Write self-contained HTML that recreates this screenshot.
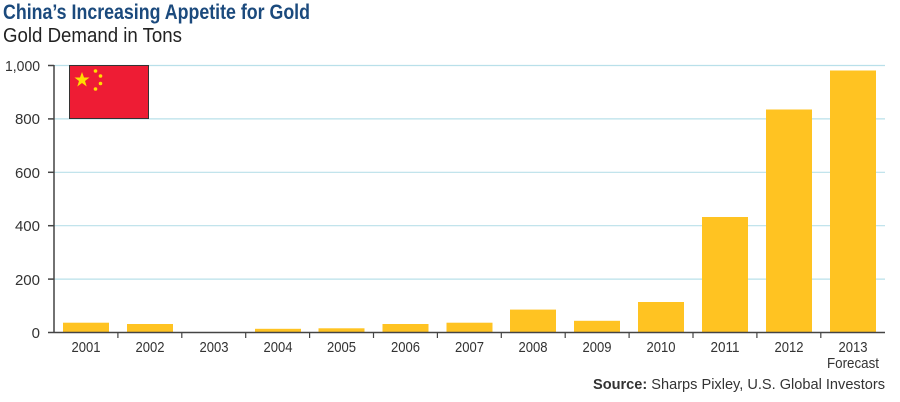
<!DOCTYPE html>
<html><head><style>body{margin:0;background:#fff}svg{display:block}</style></head><body>
<svg width="900" height="402" xmlns="http://www.w3.org/2000/svg" font-family="Liberation Sans, sans-serif">
<text x="3" y="19" font-size="21" font-weight="bold" fill="#1b4a7d" textLength="307" lengthAdjust="spacingAndGlyphs">China’s Increasing Appetite for Gold</text>
<text x="3" y="42" font-size="20" fill="#222" textLength="179" lengthAdjust="spacingAndGlyphs">Gold Demand in Tons</text>
<g stroke="#b9e0ea" stroke-width="1.2">
<line x1="54" x2="885" y1="65.5" y2="65.5"/><line x1="54" x2="885" y1="118.9" y2="118.9"/>
<line x1="54" x2="885" y1="172.3" y2="172.3"/><line x1="54" x2="885" y1="225.7" y2="225.7"/>
<line x1="54" x2="885" y1="279.1" y2="279.1"/>
</g>
<g fill="#ffc322">
<rect x="63" y="322.7" width="46" height="9.3"/>
<rect x="127" y="324" width="46" height="8"/>
<rect x="255" y="328.8" width="46" height="3.2"/>
<rect x="318.5" y="328.3" width="46" height="3.7"/>
<rect x="382.5" y="324" width="46" height="8"/>
<rect x="446.5" y="322.7" width="46" height="9.3"/>
<rect x="510" y="309.6" width="46" height="22.4"/>
<rect x="574" y="320.8" width="46" height="11.2"/>
<rect x="638" y="302" width="46" height="30"/>
<rect x="702" y="217" width="46" height="115"/>
<rect x="766" y="109.5" width="46" height="222.5"/>
<rect x="830" y="70.5" width="46" height="261.5"/>
</g>
<rect x="69.5" y="65.5" width="79" height="53" fill="#ee1c34" stroke="#333" stroke-width="1"/>
<g fill="#ffde00">
<polygon points="82,72 84,77.5 89.5,77.5 85,81 86.7,86.5 82,83 77.3,86.5 79,81 74.5,77.5 80,77.5"/>
<circle cx="95.5" cy="71" r="1.8"/><circle cx="100.5" cy="76" r="1.8"/><circle cx="100.5" cy="83.5" r="1.8"/><circle cx="95.5" cy="89" r="1.8"/>
</g>
<g stroke="#444" stroke-width="1.5">
<line x1="54" x2="54" y1="65" y2="333"/>
<line x1="54" x2="885" y1="332.5" y2="332.5"/>
<line x1="48" x2="54" y1="65.5" y2="65.5"/><line x1="48" x2="54" y1="118.9" y2="118.9"/>
<line x1="48" x2="54" y1="172.3" y2="172.3"/><line x1="48" x2="54" y1="225.7" y2="225.7"/>
<line x1="48" x2="54" y1="279.1" y2="279.1"/><line x1="48" x2="54" y1="332.5" y2="332.5"/>
</g>
<g stroke="#444" stroke-width="1.2">
<line x1="117.9" x2="117.9" y1="332" y2="338"/><line x1="181.8" x2="181.8" y1="332" y2="338"/>
<line x1="245.7" x2="245.7" y1="332" y2="338"/><line x1="309.6" x2="309.6" y1="332" y2="338"/>
<line x1="373.5" x2="373.5" y1="332" y2="338"/><line x1="437.4" x2="437.4" y1="332" y2="338"/>
<line x1="501.3" x2="501.3" y1="332" y2="338"/><line x1="565.2" x2="565.2" y1="332" y2="338"/>
<line x1="629.1" x2="629.1" y1="332" y2="338"/><line x1="693" x2="693" y1="332" y2="338"/>
<line x1="756.9" x2="756.9" y1="332" y2="338"/><line x1="820.8" x2="820.8" y1="332" y2="338"/>
</g>
<g font-size="15" fill="#333" text-anchor="end">
<text x="40" y="71" textLength="35" lengthAdjust="spacingAndGlyphs">1,000</text><text x="40" y="124">800</text><text x="40" y="178">600</text>
<text x="40" y="231">400</text><text x="40" y="285">200</text><text x="40" y="338">0</text>
</g>
<g font-size="15" fill="#333" text-anchor="middle">
<text x="86" y="352" textLength="29" lengthAdjust="spacingAndGlyphs">2001</text><text x="150" y="352" textLength="29" lengthAdjust="spacingAndGlyphs">2002</text><text x="214" y="352" textLength="29" lengthAdjust="spacingAndGlyphs">2003</text>
<text x="278" y="352" textLength="29" lengthAdjust="spacingAndGlyphs">2004</text><text x="341.5" y="352" textLength="29" lengthAdjust="spacingAndGlyphs">2005</text><text x="405.5" y="352" textLength="29" lengthAdjust="spacingAndGlyphs">2006</text>
<text x="469.5" y="352" textLength="29" lengthAdjust="spacingAndGlyphs">2007</text><text x="533" y="352" textLength="29" lengthAdjust="spacingAndGlyphs">2008</text><text x="597" y="352" textLength="29" lengthAdjust="spacingAndGlyphs">2009</text>
<text x="661" y="352" textLength="29" lengthAdjust="spacingAndGlyphs">2010</text><text x="725" y="352" textLength="29" lengthAdjust="spacingAndGlyphs">2011</text><text x="789" y="352" textLength="29" lengthAdjust="spacingAndGlyphs">2012</text>
<text x="853" y="352" textLength="29" lengthAdjust="spacingAndGlyphs">2013</text><text x="853" y="368" textLength="52" lengthAdjust="spacingAndGlyphs">Forecast</text>
</g>
<text x="885" y="389" font-size="15" fill="#333" text-anchor="end" textLength="292" lengthAdjust="spacingAndGlyphs"><tspan font-weight="bold">Source:</tspan> Sharps Pixley, U.S. Global Investors</text>
</svg>
</body></html>
